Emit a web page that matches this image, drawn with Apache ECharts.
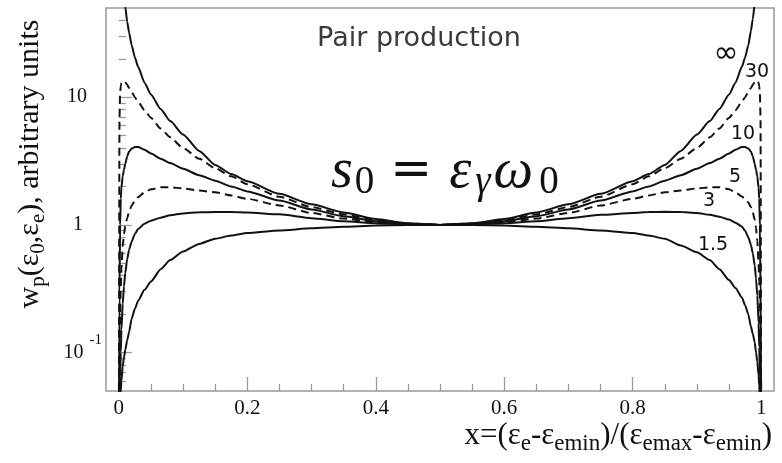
<!DOCTYPE html>
<html>
<head>
<meta charset="utf-8">
<script src="https://cdn.jsdelivr.net/npm/echarts@6/dist/echarts.min.js"></script>
<style>
  html, body { margin: 0; padding: 0; background: #ffffff; }
  #chart { width: 782px; height: 463px; }
</style>
</head>
<body>
<div id="chart"></div>
<script>
// Normalised electron energy x = (e_e - e_emin) / (e_emax - e_emin)
const xs = [0, 0.001, 0.002, 0.003, 0.004, 0.006, 0.008, 0.01, 0.013, 0.016,
            0.02, 0.025, 0.03, 0.04, 0.05, 0.065, 0.08, 0.1, 0.125, 0.15,
            0.175, 0.2, 0.25, 0.3, 0.35, 0.4, 0.45, 0.5,
            0.55, 0.6, 0.65, 0.7, 0.75, 0.8, 0.825, 0.85, 0.875, 0.9,
            0.92, 0.935, 0.95, 0.96, 0.97, 0.975, 0.98, 0.984, 0.987, 0.99,
            0.992, 0.994, 0.996, 0.997, 0.998, 0.999, 1];

// Spectrum w_p(e0, ee) for each s0 = e_gamma * w0 (arbitrary units)
const wInf = [1000, 500, 250, 170, 128, 85, 64, 51, 39, 32,
              25.5, 20.5, 17.3, 13.0, 10.5, 8.1, 6.5, 5.1, 3.8, 2.95,
              2.5, 2.2, 1.75, 1.45, 1.25, 1.11, 1.03, 1.0,
              1.03, 1.11, 1.25, 1.45, 1.75, 2.2, 2.5, 2.95, 3.8, 5.1,
              6.5, 8.1, 10.5, 13.0, 17.3, 20.5, 25.5, 33, 41, 54,
              67, 88, 130, 172, 250, 500, 1000];
const w30 = [0.02, 7, 10.8, 12.2, 12.9, 13.4, 13.4, 13.1, 12.5, 11.8,
             11.0, 10.0, 9.2, 7.9, 6.9, 5.7, 4.85, 4.0, 3.3, 2.78,
             2.4, 2.08, 1.66, 1.38, 1.21, 1.09, 1.025, 1.0,
             1.025, 1.09, 1.21, 1.38, 1.66, 2.08, 2.4, 2.78, 3.3, 4.0,
             4.85, 5.7, 6.9, 7.9, 9.2, 10.0, 11.0, 11.8, 12.5, 13.1,
             13.4, 13.5, 13.0, 12.2, 10.8, 7, 0.02];
const w10 = [0.02, 0.3, 1.0, 1.6, 1.95, 2.4, 2.7, 3.0, 3.45, 3.75,
             3.97, 4.07, 4.07, 3.88, 3.62, 3.3, 3.05, 2.75, 2.45, 2.22,
             2.0, 1.83, 1.55, 1.32, 1.17, 1.07, 1.02, 1.0,
             1.02, 1.07, 1.17, 1.32, 1.55, 1.83, 2.0, 2.22, 2.45, 2.75,
             3.05, 3.3, 3.62, 3.88, 4.07, 4.07, 3.97, 3.75, 3.45, 3.0,
             2.7, 2.4, 1.95, 1.6, 1.0, 0.3, 0.02];
const w5 = [0.02, 0.08, 0.2, 0.33, 0.45, 0.68, 0.85, 0.98, 1.13, 1.27,
            1.42, 1.55, 1.65, 1.8, 1.9, 1.97, 1.97, 1.93, 1.86, 1.8,
            1.7, 1.6, 1.42, 1.24, 1.12, 1.05, 1.01, 1.0,
            1.01, 1.05, 1.12, 1.24, 1.42, 1.6, 1.7, 1.8, 1.86, 1.93,
            1.97, 1.97, 1.9, 1.8, 1.67, 1.6, 1.5, 1.38, 1.25, 1.1,
            0.95, 0.75, 0.5, 0.36, 0.22, 0.09, 0.02];
const w3 = [0.02, 0.035, 0.065, 0.1, 0.15, 0.24, 0.33, 0.42, 0.54, 0.64,
            0.74, 0.85, 0.93, 1.02, 1.08, 1.14, 1.19, 1.23, 1.255, 1.26,
            1.26, 1.25, 1.21, 1.13, 1.07, 1.03, 1.01, 1.0,
            1.01, 1.03, 1.07, 1.13, 1.2, 1.24, 1.26, 1.265, 1.26, 1.24,
            1.2, 1.16, 1.1, 1.04, 0.97, 0.9, 0.8, 0.7, 0.6, 0.48,
            0.38, 0.28, 0.17, 0.11, 0.065, 0.035, 0.02];
const w15 = [0.01, 0.02, 0.035, 0.05, 0.06, 0.078, 0.092, 0.105, 0.125, 0.145,
             0.185, 0.22, 0.255, 0.31, 0.36, 0.45, 0.53, 0.62, 0.71, 0.78,
             0.825, 0.865, 0.905, 0.94, 0.968, 0.988, 0.997, 1.0,
             0.997, 0.988, 0.968, 0.94, 0.905, 0.865, 0.825, 0.78, 0.69, 0.61,
             0.53, 0.45, 0.37, 0.32, 0.27, 0.235, 0.2, 0.16, 0.14, 0.12,
             0.1, 0.085, 0.066, 0.055, 0.042, 0.025, 0.01];

const curveNames = ['∞', '30', '10', '5', '3', '1.5'];
const curveValues = [wInf, w30, w10, w5, w3, w15];
const curveDashed = [false, true, false, true, false, false];

// Axis ticks
const xMajorTicks = [0, 0.2, 0.4, 0.6, 0.8, 1];
const xMinorTicks = [0.05, 0.1, 0.15, 0.25, 0.3, 0.35, 0.45, 0.5, 0.55,
                     0.65, 0.7, 0.75, 0.85, 0.9, 0.95];
const yMajorTicks = [0.1, 1, 10];
const yMinorTicks = [0.06, 0.07, 0.08, 0.09, 0.2, 0.3, 0.4, 0.5, 0.6, 0.7,
                     0.8, 0.9, 2, 3, 4, 5, 6, 7, 8, 9, 20, 30, 40];

const SERIF = "'Liberation Serif', 'DejaVu Serif', serif";
const SANS = "'DejaVu Sans', 'Liberation Sans', sans-serif";
const INK = '#111111';
const FRAME = '#9a9a9a';

const chart = echarts.init(document.getElementById('chart'), null, { renderer: 'canvas' });

const series = curveValues.map((vals, k) => ({
  name: curveNames[k],
  type: 'line',
  xAxisIndex: 0,
  yAxisIndex: 0,
  data: xs.map((x, i) => [x, vals[i]]),
  symbol: 'none',
  showSymbol: false,
  smooth: 0.2,
  smoothMonotone: 'x',
  clip: true,
  silent: true,
  lineStyle: { color: INK, width: 2, type: curveDashed[k] ? [8, 5] : 'solid' }
}));

const hiddenLine = { show: false };
const noSplit = { show: false };

function centred(text, x, y, font) {
  return {
    type: 'text', x: x, y: y, silent: true,
    style: { text: text, font: font, fill: INK,
             align: 'center', verticalAlign: 'middle',
             textAlign: 'center', textVerticalAlign: 'middle' }
  };
}

const option = {
  backgroundColor: '#ffffff',
  animation: false,
  grid: {
    left: 106, right: 8, top: 8, bottom: 72,
    show: true, borderColor: FRAME, borderWidth: 1.5, backgroundColor: 'transparent'
  },
  xAxis: [
    {
      type: 'value', min: -0.02, max: 1.02, position: 'bottom',
      axisLine: hiddenLine, splitLine: noSplit,
      axisTick: { inside: true, length: 14, customValues: xMajorTicks,
                  lineStyle: { color: FRAME, width: 1.3 } },
      axisLabel: {
        customValues: xMajorTicks, margin: 7,
        fontFamily: SERIF, fontSize: 21, color: INK,
        formatter: v => String(+(+v).toFixed(1))
      }
    },
    {
      type: 'value', min: -0.02, max: 1.02, position: 'bottom',
      axisLine: hiddenLine, splitLine: noSplit,
      axisTick: { inside: true, length: 7, customValues: xMinorTicks,
                  lineStyle: { color: FRAME, width: 1.3 } },
      axisLabel: { show: false }
    }
  ],
  yAxis: [
    {
      type: 'log', logBase: 10, min: 0.05, max: 50, position: 'left',
      axisLine: hiddenLine, splitLine: noSplit,
      axisTick: { inside: true, length: 13, customValues: yMajorTicks,
                  lineStyle: { color: FRAME, width: 1.3 } },
      axisLabel: {
        customValues: yMajorTicks, margin: 4,
        formatter: v => {
          const p = Math.round(Math.log10(v));
          if (p === 1) return '{ten|10}';
          if (p === 0) return '{one|1}';
          return '{base|10}{exp|' + p + '}';
        },
        rich: {
          ten:  { fontFamily: SERIF, fontSize: 20, color: INK, padding: [0, 15, 0, 0] },
          one:  { fontFamily: SERIF, fontSize: 20, color: INK, padding: [0, 19, 0, 0] },
          base: { fontFamily: SERIF, fontSize: 20, color: INK, lineHeight: 40 },
          exp:  { fontFamily: SERIF, fontSize: 15, color: INK, lineHeight: 10,
                  verticalAlign: 'top', padding: [0, 0, 0, 6] }
        }
      }
    },
    {
      type: 'log', logBase: 10, min: 0.05, max: 50, position: 'left', offset: 0,
      axisLine: hiddenLine, splitLine: noSplit,
      axisTick: { inside: true, length: 7, customValues: yMinorTicks,
                  lineStyle: { color: FRAME, width: 1.3 } },
      axisLabel: { show: false }
    }
  ],
  series: series,
  graphic: [
    {
      type: 'text', x: 419, y: 39, silent: true,
      style: {
        text: 'Pair production', font: '27px ' + SANS, fill: '#3a3a3a',
        align: 'center', verticalAlign: 'middle',
        textAlign: 'center', textVerticalAlign: 'middle'
      }
    },
    {
      type: 'text', x: 331, y: 172, silent: true,
      style: {
        text: '{it|s}{sub|0}{eq|=}{it|ε}{subi|γ}{it|ω}{subl|0}',
        align: 'left', verticalAlign: 'middle',
        textAlign: 'left', textVerticalAlign: 'middle',
        rich: {
          it:   { fontFamily: SERIF, fontStyle: 'italic', fontSize: 56, lineHeight: 60, fill: INK, color: INK },
          sub:  { fontFamily: SERIF, fontSize: 39, lineHeight: 35, verticalAlign: 'bottom', fill: INK, color: INK,
                  padding: [0, 0, 0, 2] },
          subl: { fontFamily: SERIF, fontSize: 39, lineHeight: 35, verticalAlign: 'bottom', fill: INK, color: INK,
                  padding: [0, 0, 0, 6] },
          subi: { fontFamily: SERIF, fontStyle: 'italic', fontSize: 39, lineHeight: 35, verticalAlign: 'bottom', fill: INK, color: INK,
                  padding: [0, 3, 0, 4] },
          eq:   { fontFamily: SANS, fontSize: 50, lineHeight: 60, padding: [0, 17, 0, 16], fill: INK, color: INK }
        }
      }
    },
    {
      type: 'text', x: 772, y: 436, silent: true,
      style: {
        text: '{m|x=(ε}{s|e}{m|-ε}{s|emin}{m|)/(ε}{s|emax}{m|-ε}{s|emin}{m|)}',
        align: 'right', verticalAlign: 'middle',
        textAlign: 'right', textVerticalAlign: 'middle',
        rich: {
          m: { fontFamily: SERIF, fontSize: 31, lineHeight: 38, fill: INK, color: INK },
          s: { fontFamily: SERIF, fontSize: 23, lineHeight: 16, verticalAlign: 'bottom', fill: INK, color: INK }
        }
      }
    },
    {
      type: 'text', x: 30, y: 164, rotation: Math.PI / 2, silent: true,
      style: {
        text: '{m|w}{s|p}{m|(ε}{s|0}{m|,ε}{s|e}{m|), arbitrary units}',
        align: 'center', verticalAlign: 'middle',
        textAlign: 'center', textVerticalAlign: 'middle',
        rich: {
          m: { fontFamily: SERIF, fontSize: 30, lineHeight: 38, fill: INK, color: INK },
          s: { fontFamily: SERIF, fontSize: 21, lineHeight: 16, verticalAlign: 'bottom', fill: INK, color: INK }
        }
      }
    },
    centred('∞', 726, 54, '30px ' + SANS),
    centred('30', 757, 72, '19px ' + SANS),
    centred('10', 743, 134, '19px ' + SANS),
    centred('5', 735, 177, '19px ' + SANS),
    centred('3', 709, 201, '19px ' + SANS),
    centred('1.5', 713, 245, '19px ' + SANS)
  ]
};

chart.setOption(option);
</script>
</body>
</html>
